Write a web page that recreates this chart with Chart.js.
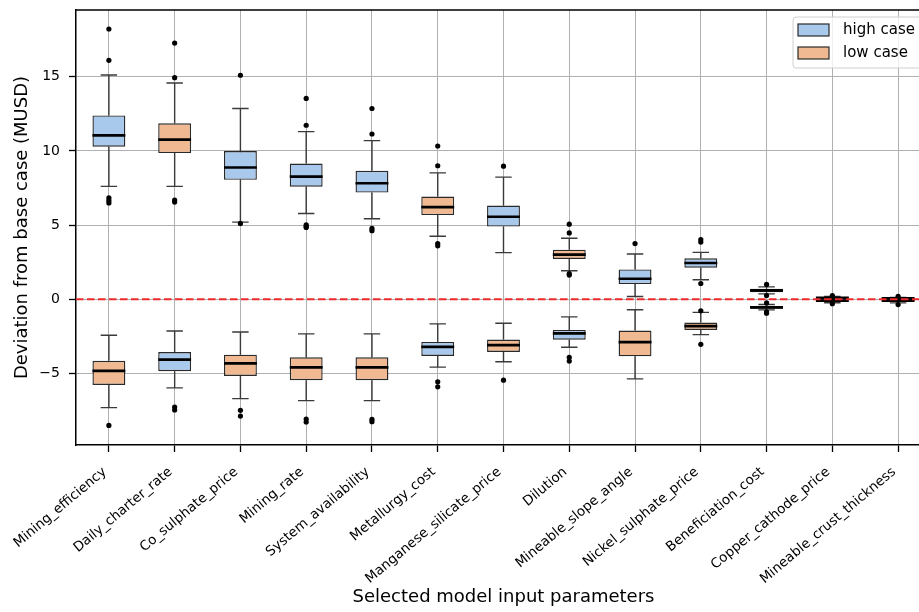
<!DOCTYPE html>
<html>
<head>
<meta charset="utf-8">
<script src="https://cdn.jsdelivr.net/npm/chart.js@4"></script>
<style>
  html, body { margin: 0; padding: 0; background: #fff; overflow: hidden; }
  #wrap { width: 919px; height: 612px; overflow: hidden; }
  #wrap canvas { display: block; }
</style>
</head>
<body>
<div id="wrap"><canvas id="chart" width="960" height="612"></canvas></div>
<script>
'use strict';

// ─── Data ─────────────────────────────────────────────────────────────────────

const CATEGORIES = [
  'Mining_efficiency', 'Daily_charter_rate', 'Co_sulphate_price', 'Mining_rate',
  'System_availability', 'Metallurgy_cost', 'Manganese_silicate_price', 'Dilution',
  'Mineable_slope_angle', 'Nickel_sulphate_price', 'Beneficiation_cost',
  'Copper_cathode_price', 'Mineable_crust_thickness',
];

const Y_TICKS = [-5, 0, 5, 10, 15];

// high case (blue boxes)
const HIGH_WLO = [7.61, -5.98, 5.20, 5.78, 5.42, -4.58, 3.14, -3.24, 0.18, 1.31, -0.72, 0.02, 0.00];
const HIGH_Q1  = [10.28, -4.85, 8.05, 7.59, 7.19, -3.83, 4.90, -2.73, 1.02, 2.12, -0.65, 0.06, 0.02];
const HIGH_MED = [11.05, -4.08, 8.88, 8.27, 7.82, -3.22, 5.56, -2.30, 1.38, 2.44, -0.55, 0.09, 0.05];
const HIGH_Q3  = [12.39, -3.56, 9.99, 9.15, 8.66, -2.88, 6.31, -2.07, 2.01, 2.76, -0.45, 0.13, 0.08];
const HIGH_WHI = [15.12, -2.14, 12.86, 11.30, 10.69, -1.66, 8.23, -1.19, 3.05, 3.16, -0.36, 0.18, 0.12];
const HIGH_FLIERS = [
  [18.22, 16.11, 6.83, 6.65, 6.49], [-7.27, -7.47], [15.10, 5.11], [13.54, 11.73, 5.02, 4.92, 4.84],
  [12.86, 11.14, 4.77, 4.62], [-5.57, -5.91], [8.97], [-3.92, -4.17], [3.75], [4.02, 3.85, 1.06],
  [-0.25, -0.85, -0.94], [0.25], [0.20],
];

// low case (orange boxes)
const LOW_WLO = [-7.31, 7.61, -6.70, -6.84, -6.84, 4.25, -4.22, 1.92, -5.37, -2.39, 0.36, -0.24, -0.25];
const LOW_Q1  = [-5.78, 9.85, -5.17, -5.46, -5.46, 5.67, -3.56, 2.71, -3.85, -2.07, 0.47, -0.15, -0.13];
const LOW_MED = [-4.83, 10.76, -4.33, -4.60, -4.60, 6.21, -3.09, 3.00, -2.90, -1.82, 0.59, -0.10, -0.09];
const LOW_Q3  = [-4.15, 11.86, -3.74, -3.92, -3.92, 6.92, -2.72, 3.34, -2.11, -1.57, 0.70, -0.07, -0.06];
const LOW_WHI = [-2.43, 14.58, -2.21, -2.34, -2.34, 8.52, -1.62, 4.11, -0.71, -0.89, 0.83, -0.03, -0.03];
const LOW_FLIERS = [
  [-8.51], [17.27, 14.94, 6.69, 6.55], [-7.49, -7.88], [-8.08, -8.28], [-8.10, -8.26],
  [10.33, 9.00, 3.75, 3.60], [-5.46], [5.06, 4.47, 1.72, 1.63], [], [-0.78, -3.04],
  [1.00, 0.25], [-0.30], [-0.36],
];

const HIGH_COLOR = '#a8c8ec';
const LOW_COLOR = '#f0b991';
const EDGE_COLOR = '#2a2a2a';
const WHISKER_COLOR = '#3a3a3a';
const FONT = 'DejaVu Sans';

// ─── Helpers ──────────────────────────────────────────────────────────────────

const boxes = (q1, q3) => q1.map((v, i) => [v, q3[i]]);
const fliers = (lists) => lists.flatMap((list, i) => list.map(y => ({ x: CATEGORIES[i], y })));

const CASES = [
  { label: 'high case', color: HIGH_COLOR, wlo: HIGH_WLO, q1: HIGH_Q1, med: HIGH_MED, q3: HIGH_Q3, whi: HIGH_WHI },
  { label: 'low case', color: LOW_COLOR, wlo: LOW_WLO, q1: LOW_Q1, med: LOW_MED, q3: LOW_Q3, whi: LOW_WHI },
];

// ─── Box plot extras: whiskers, medians, zero line, frame, legend ────────────

const boxPlotPlugin = {
  id: 'boxPlot',
  beforeDatasetsDraw(chart) {
    const { ctx, scales: { x, y } } = chart;
    ctx.save();
    ctx.strokeStyle = WHISKER_COLOR;
    ctx.lineWidth = 1.4;
    CASES.forEach((c, d) => {
      const meta = chart.getDatasetMeta(2 + d);
      CATEGORIES.forEach((_, i) => {
        const px = x.getPixelForValue(i);
        const half = meta.data[i].width / 4;
        ctx.beginPath();
        ctx.moveTo(px, y.getPixelForValue(c.q3[i]));
        ctx.lineTo(px, y.getPixelForValue(c.whi[i]));
        ctx.moveTo(px, y.getPixelForValue(c.q1[i]));
        ctx.lineTo(px, y.getPixelForValue(c.wlo[i]));
        [c.whi[i], c.wlo[i]].forEach(v => {
          const py = y.getPixelForValue(v);
          ctx.moveTo(px - half, py);
          ctx.lineTo(px + half, py);
        });
        ctx.stroke();
      });
    });
    ctx.restore();
  },
  afterDatasetsDraw(chart) {
    const { ctx, chartArea, scales: { x, y } } = chart;
    ctx.save();
    // medians
    ctx.strokeStyle = '#000';
    ctx.lineWidth = 2.7;
    CASES.forEach((c, d) => {
      const meta = chart.getDatasetMeta(2 + d);
      CATEGORIES.forEach((_, i) => {
        const px = x.getPixelForValue(i);
        const half = meta.data[i].width / 2;
        const py = y.getPixelForValue(c.med[i]);
        ctx.beginPath();
        ctx.moveTo(px - half, py);
        ctx.lineTo(px + half, py);
        ctx.stroke();
      });
    });
    // zero reference line
    const y0 = y.getPixelForValue(0);
    ctx.strokeStyle = '#f02a2a';
    ctx.lineWidth = 2;
    ctx.setLineDash([7.5, 3.5]);
    ctx.beginPath();
    ctx.moveTo(chartArea.left, y0);
    ctx.lineTo(chartArea.right, y0);
    ctx.stroke();
    ctx.setLineDash([]);
    // top and right spines
    ctx.strokeStyle = '#000';
    ctx.lineWidth = 1.5;
    ctx.beginPath();
    ctx.moveTo(chartArea.left, chartArea.top);
    ctx.lineTo(chartArea.right, chartArea.top);
    ctx.lineTo(chartArea.right, chartArea.bottom);
    ctx.stroke();
    ctx.restore();
  },
  afterDraw(chart) {
    const { ctx, chartArea } = chart;
    const left = chartArea.right - 138;
    const top = chartArea.top + 7;
    ctx.save();
    ctx.fillStyle = 'rgba(255,255,255,0.8)';
    ctx.strokeStyle = '#d0d0d0';
    ctx.lineWidth = 1;
    ctx.beginPath();
    ctx.roundRect(left, top, 131, 51, 3);
    ctx.fill();
    ctx.stroke();
    ctx.font = `15px "${FONT}"`;
    ctx.textBaseline = 'middle';
    CASES.forEach((c, k) => {
      const ry = top + 7 + k * 23;
      ctx.fillStyle = c.color;
      ctx.fillRect(left + 5, ry, 31, 12);
      ctx.strokeStyle = EDGE_COLOR;
      ctx.lineWidth = 1.2;
      ctx.strokeRect(left + 5, ry, 31, 12);
      ctx.fillStyle = '#000';
      ctx.fillText(c.label, left + 50, ry + 6);
    });
    ctx.restore();
  },
};

// ─── Chart ────────────────────────────────────────────────────────────────────

new Chart(document.getElementById('chart'), {
  type: 'bar',
  data: {
    labels: CATEGORIES,
    datasets: [
      { type: 'scatter', label: 'high fliers', data: fliers(HIGH_FLIERS), showLine: false,
        pointRadius: 2.6, pointBackgroundColor: '#000', pointBorderWidth: 0 },
      { type: 'scatter', label: 'low fliers', data: fliers(LOW_FLIERS), showLine: false,
        pointRadius: 2.6, pointBackgroundColor: '#000', pointBorderWidth: 0 },
      ...CASES.map(c => ({
        label: c.label,
        data: boxes(c.q1, c.q3),
        backgroundColor: c.color,
        borderColor: EDGE_COLOR,
        borderWidth: 1.4,
        borderSkipped: false,
        grouped: false,
        barPercentage: 0.5,
        categoryPercentage: 1.0,
      })),
    ],
  },
  options: {
    responsive: false,
    animation: false,
    layout: { padding: { top: 10, right: 29, bottom: 0, left: 0 } },
    plugins: {
      legend: { display: false },
      tooltip: { enabled: false },
    },
    scales: {
      x: {
        type: 'category',
        offset: true,
        grid: { offset: false, color: '#b0b0b0', lineWidth: 1, tickLength: 7, tickColor: '#000', tickWidth: 1.3 },
        border: { color: '#000', width: 1.5 },
        ticks: {
          color: '#000', autoSkip: false, minRotation: 40, maxRotation: 40,
          padding: 12, labelOffset: -4, font: { family: FONT, size: 13.5 },
        },
        title: {
          display: true, text: 'Selected model input parameters', color: '#000',
          font: { family: FONT, size: 18 }, padding: { top: 0, bottom: 4 },
        },
        afterFit(scale) {
          scale.height = 612 - 445;
          scale.paddingLeft = 0;
          scale.paddingRight = 0;
        },
      },
      y: {
        min: -9.83,
        max: 19.5,
        afterBuildTicks(scale) { scale.ticks = Y_TICKS.map(v => ({ value: v })); },
        grid: { color: '#b0b0b0', lineWidth: 1, tickLength: 7, tickColor: '#000', tickWidth: 1.3 },
        border: { color: '#000', width: 1.5 },
        ticks: {
          color: '#000', padding: 9, font: { family: FONT, size: 14 },
          callback: (v) => (v < 0 ? '\u2212' + Math.abs(v) : String(v)),
        },
        title: {
          display: true, text: 'Deviation from base case (MUSD)', color: '#000',
          font: { family: FONT, size: 18 }, padding: { top: 12, bottom: 0 },
        },
        afterFit(scale) {
          scale.width = 76;
          scale.paddingTop = 0;
          scale.paddingBottom = 0;
        },
      },
    },
  },
  plugins: [boxPlotPlugin],
});
</script>
</body>
</html>
